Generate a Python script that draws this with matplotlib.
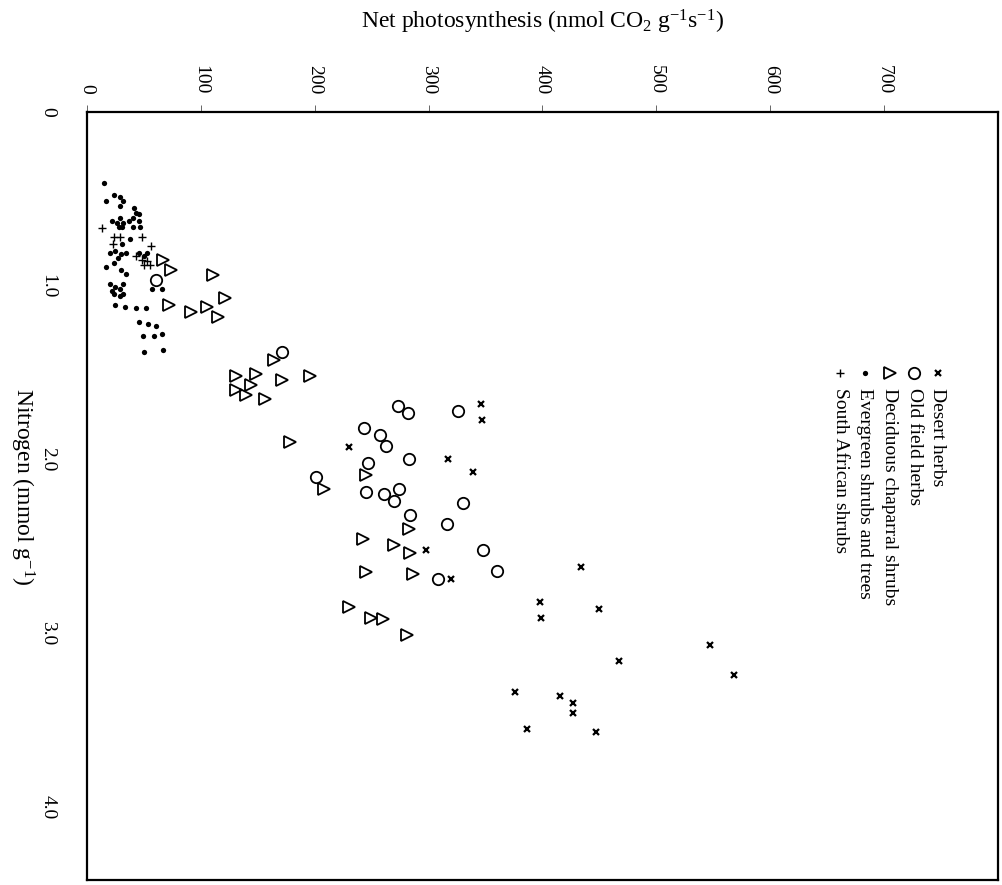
import matplotlib.pyplot as plt
from matplotlib.lines import Line2D

plt.rcParams['font.family'] = ['Liberation Serif', 'DejaVu Serif']
plt.rcParams['mathtext.fontset'] = 'custom'
plt.rcParams['mathtext.rm'] = 'Liberation Serif'
plt.rcParams['mathtext.it'] = 'Liberation Serif:italic'

# leaf nitrogen (mmol/g) and net photosynthesis (nmol CO2/g/s) per group
desert_n = [1.68, 1.77, 1.93, 2.00, 2.07, 2.52, 2.69, 2.62, 2.82, 2.91,
            2.86, 3.07, 3.16, 3.24, 3.34, 3.36, 3.40, 3.46, 3.55, 3.57]
desert_p = [346, 347, 230, 317, 339, 298, 320, 434, 398, 399,
            450, 547, 467, 568, 376, 415, 427, 427, 386, 447]

oldfield_n = [0.97, 1.38, 2.10, 1.69, 1.73, 1.72, 1.82, 1.86, 1.92, 2.02, 2.00,
              2.19, 2.20, 2.17, 2.24, 2.32, 2.37, 2.25, 2.52, 2.64, 2.69]
oldfield_p = [61, 171, 201, 273, 282, 326, 243, 257, 263, 247, 283,
              245, 261, 274, 270, 284, 316, 330, 348, 360, 308]

chaparral_n = [0.85, 0.91, 0.94, 1.11, 1.15, 1.12, 1.07, 1.18, 1.52, 1.60,
               1.51, 1.57, 1.63, 1.65, 1.54, 1.52, 1.43, 1.90, 2.17, 2.09,
               2.46, 2.49, 2.54, 2.40, 2.65, 2.66, 2.85, 2.91, 2.92, 3.01]
chaparral_p = [67, 74, 111, 72, 91, 105, 121, 115, 131, 131,
               148, 144, 140, 156, 171, 196, 164, 178, 208, 245,
               242, 270, 284, 283, 245, 286, 230, 249, 260, 281]

evergreen_n = [0.41, 0.51, 0.48, 0.49, 0.51, 0.54, 0.55, 0.58, 0.59, 0.63,
               0.64, 0.61, 0.64, 0.66, 0.66, 0.63, 0.61, 0.66, 0.66, 0.63,
               0.73, 0.76, 0.81, 0.80, 0.82, 0.81, 0.84, 0.87, 0.89, 0.91,
               0.93, 0.99, 1.01, 1.03, 1.02, 0.99, 1.05, 1.06, 1.05, 1.11,
               1.12, 1.13, 1.13, 1.21, 1.22, 1.23, 1.29, 1.29, 1.28, 1.38,
               1.37, 1.02, 1.02, 0.81, 0.83, 0.81]
evergreen_p = [15, 17, 24, 29, 32, 29, 41, 43, 46, 22,
               26, 29, 32, 31, 28, 37, 40, 40, 47, 46,
               38, 31, 20, 25, 30, 34, 27, 24, 17, 30,
               34, 20, 25, 22, 29, 32, 24, 29, 32, 25,
               33, 43, 52, 46, 54, 61, 49, 59, 66, 50,
               67, 57, 66, 46, 50, 53]

safrican_n = [0.67, 0.72, 0.72, 0.72, 0.76, 0.77, 0.83, 0.85, 0.86, 0.88, 0.88]
safrican_p = [13, 24, 29, 48, 23, 56, 43, 48, 53, 50, 55]

group_names = ['Desert herbs', 'Old field herbs', 'Deciduous chaparral shrubs',
               'Evergreen shrubs and trees', 'South African shrubs']

p_ticks = [0, 100, 200, 300, 400, 500, 600, 700]
n_ticks = [0, 1, 2, 3, 4]
n_tick_labels = ['0', '1.0', '2.0', '3.0', '4.0']

# the page is turned: photosynthesis runs left-right, nitrogen runs downward
styles = [
    dict(marker='x', ms=4.5, mew=1.6, mfc='none'),
    dict(marker='o', ms=8.2, mew=1.3, mfc='none'),
    dict(marker='>', ms=8.2, mew=1.3, mfc='none'),
    dict(marker='o', ms=3.8, mew=0),
    dict(marker='+', ms=6, mew=1.0),
]
series = [(desert_p, desert_n), (oldfield_p, oldfield_n),
          (chaparral_p, chaparral_n), (evergreen_p, evergreen_n),
          (safrican_p, safrican_n)]

fig = plt.figure(figsize=(10.02, 8.85), dpi=100)
ax = fig.add_axes([0.0868, 0.0057, 0.9092, 0.8678])

for (p, n), st in zip(series, styles):
    ax.plot(p, n, ls='none', color='black', mec='black', **st)

ax.set_xlim(0, 800)
ax.set_ylim(4.42, 0)

ax.xaxis.set_ticks_position('top')
ax.xaxis.set_label_position('top')
ax.set_xticks(p_ticks)
ax.set_xticklabels([str(t) for t in p_ticks], rotation=-90, fontsize=14)
ax.set_yticks(n_ticks)
ax.set_yticklabels(n_tick_labels, rotation=-90, fontsize=14, va='center')
ax.tick_params(axis='x', direction='out', length=5, width=0.7, color='0.4', pad=8)
ax.tick_params(axis='y', direction='out', length=0, pad=22)

for side in ax.spines.values():
    side.set_linewidth(1.6)

ax.set_xlabel(r'Net photosynthesis (nmol CO$_2$ g$^{\mathrm{-1}}$s$^{\mathrm{-1}}$)',
              fontsize=17, labelpad=26)
fig.text(0.022, 0.45, r'Nitrogen (mmol g$^{\mathrm{-1}}$)', rotation=-90,
         fontsize=17, ha='center', va='center')

# legend turned with the page: symbol above, text reading downward
legend_x = [0.934, 0.908, 0.881, 0.854, 0.827]
for x, name, st in zip(legend_x, group_names, styles):
    ax.add_line(Line2D([x], [0.66], transform=ax.transAxes, ls='none',
                       color='black', mec='black', **st))
    ax.text(x, 0.64, name, transform=ax.transAxes, rotation=-90,
            fontsize=14, ha='center', va='top')

fig.savefig('out.png', dpi=100)
